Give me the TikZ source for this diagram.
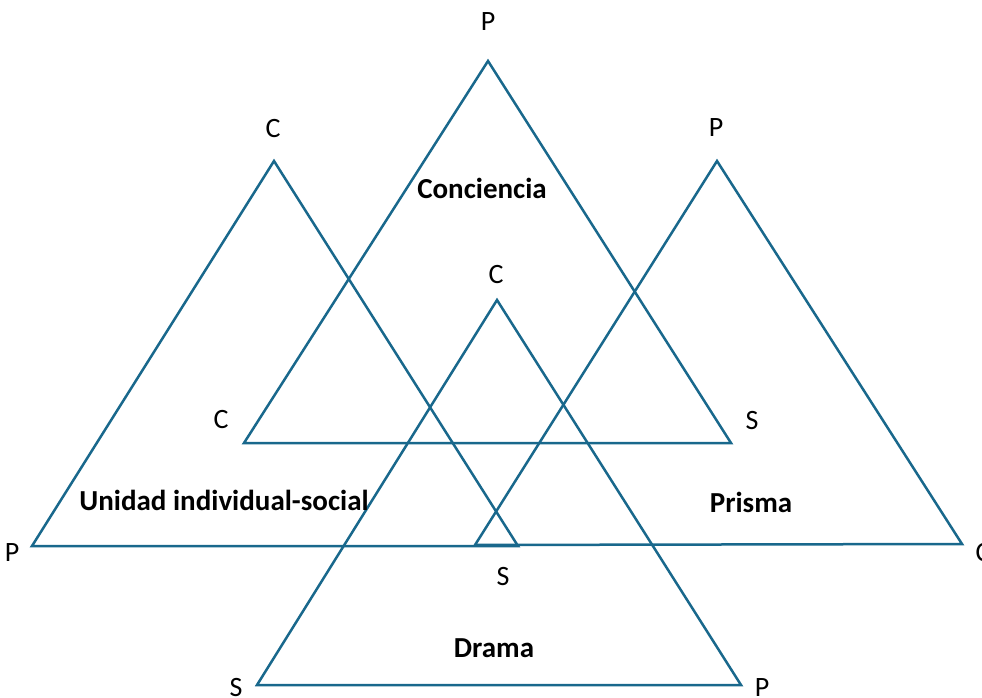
\documentclass[tikz,border=0pt]{standalone}
\usepackage{fontspec}
\setmainfont{Carlito}
\begin{document}
\begin{tikzpicture}[x=1pt,y=-1pt,
  tri/.style={draw={rgb,255:red,25;green,104;blue,140}, line width=2.5pt, line join=miter},
  lbl/.style={font=\fontsize{28}{30}\selectfont, inner sep=0pt, anchor=center},
  ttl/.style={font=\fontsize{29}{31}\selectfont\bfseries, inner sep=0pt, anchor=center}]
\useasboundingbox (0,0) rectangle (982,698);
% vertices
\coordinate (a1) at (488,61);  \coordinate (a2) at (244,443); \coordinate (a3) at (731,443);
\coordinate (b1) at (274,161); \coordinate (b2) at (32,546);  \coordinate (b3) at (518,546);
\coordinate (c1) at (717,161); \coordinate (c2) at (475,545); \coordinate (c3) at (962,544);
\coordinate (d1) at (497,300); \coordinate (d2) at (257,685); \coordinate (d3) at (741,685);
\draw[tri] (a1) -- (a2) -- (a3) -- cycle;
\draw[tri] (b1) -- (b2) -- (b3) -- cycle;
\draw[tri] (c1) -- (c2) -- (c3) -- cycle;
\draw[tri] (d1) -- (d2) -- (d3) -- cycle;
% vertex labels
\node[lbl] (la1) at (488,22) {P};
\node[lbl] (la2) at (221,420) {C};
\node[lbl] (la3) at (752,421) {S};
\node[lbl] (lb1) at (273,129) {C};
\node[lbl] (lb2) at (12,553) {P};
\node[lbl] (lb3) at (503,577) {S};
\node[lbl] (lc1) at (716,128) {P};
\node[lbl] (lc3) at (983,553) {C};
\node[lbl] (ld1) at (496,275) {C};
\node[lbl] (ld2) at (236,688) {S};
\node[lbl] (ld3) at (762,688) {P};
% titles
\node[ttl] (t1) at (482,188) {Conciencia};
\node[ttl] (t2) at (224,500) {Unidad individual-social};
\node[ttl] (t3) at (751,502) {Prisma};
\node[ttl] (t4) at (494,648) {Drama};
\end{tikzpicture}
\end{document}
